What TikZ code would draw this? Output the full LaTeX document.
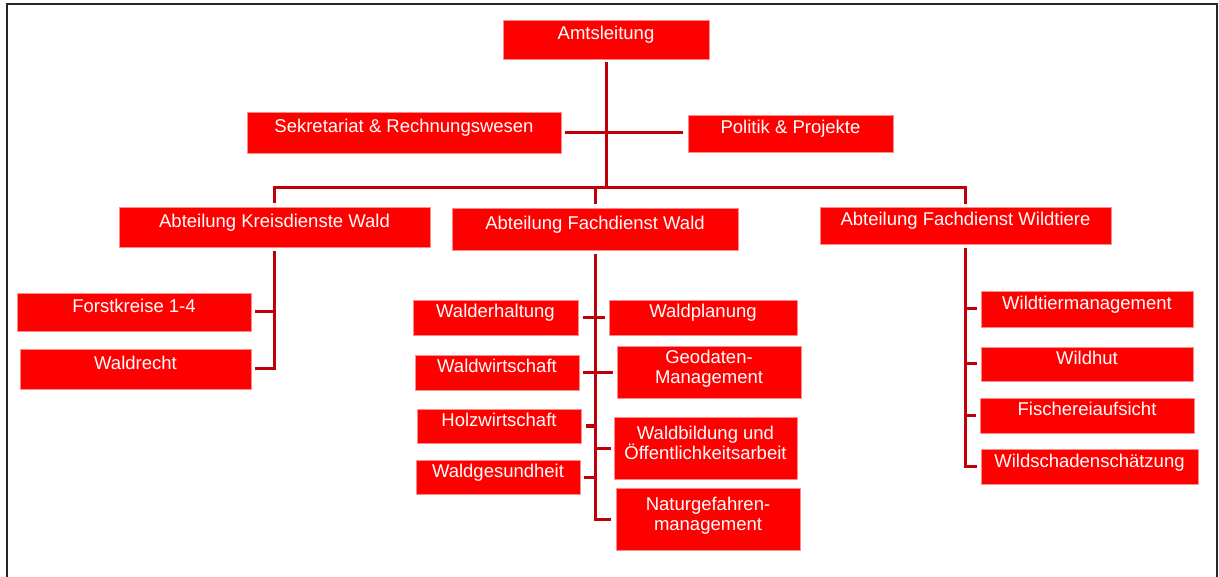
\documentclass[tikz,border=0pt]{standalone}
\usepackage{fontspec}
\setmainfont{Liberation Sans}
\definecolor{boxred}{RGB}{255,0,0}
\definecolor{boxedge}{RGB}{255,140,140}
\definecolor{linered}{RGB}{192,0,8}
\begin{document}
\begin{tikzpicture}[x=1pt,y=-1pt,
  box/.style={draw=boxedge, line width=0.7pt, fill=boxred, text=white,
    font=\fontsize{18.5}{20}\selectfont, inner sep=0pt, align=center,
    text height=13pt, text depth=12pt},
  twoline/.style={text height=33pt, text depth=10pt},
  conn/.style={draw=linered, line width=3pt},
  frame/.style={draw=black!85, line width=2pt}]
\useasboundingbox (0,0) rectangle (1219,577);
\draw[frame] (6.5,577) -- (6.5,4) -- (1217,4) -- (1217,577);

% boxes
\node[box, minimum width=206, minimum height=39] (amt)   at (606,39.5)  {Amtsleitung};
\node[box, minimum width=314, minimum height=41] (sek)   at (404,132.5) {Sekretariat \& Rechnungswesen};
\node[box, minimum width=205, minimum height=37] (pol)   at (790.5,133.5) {Politik \& Projekte};
\node[box, minimum width=311, minimum height=40] (kreis) at (274.5,227)  {Abteilung Kreisdienste Wald};
\node[box, minimum width=286, minimum height=42] (fach)  at (595,229)    {Abteilung Fachdienst Wald};
\node[box, minimum width=291, minimum height=37] (wild)  at (965.5,225.5) {Abteilung Fachdienst Wildtiere};

\node[box, minimum width=234, minimum height=38] (forst) at (134,312)    {Forstkreise 1-4};
\node[box, minimum width=231, minimum height=40] (recht) at (135.5,369)  {Waldrecht};

\node[box, minimum width=165, minimum height=35] (erh)   at (495.5,317.5) {Walderhaltung};
\node[box, minimum width=188, minimum height=35] (plan)  at (703,317.5)   {Waldplanung};
\node[box, minimum width=164, minimum height=35] (wirt)  at (497,372.5)   {Waldwirtschaft};
\node[box, twoline, minimum width=184, minimum height=52] (geo) at (709,372) {Geodaten-\\Management};
\node[box, minimum width=164, minimum height=34] (holz)  at (499,426)     {Holzwirtschaft};
\node[box, twoline, minimum width=183, minimum height=62] (bild) at (705.5,448) {Waldbildung und\\Öffentlichkeitsarbeit};
\node[box, minimum width=164, minimum height=34] (ges)   at (498,477)     {Waldgesundheit};
\node[box, twoline, minimum width=184, minimum height=62] (natur) at (708,519) {Naturgefahren-\\management};

\node[box, minimum width=212, minimum height=36] (wtm)   at (1087,309)    {Wildtiermanagement};
\node[box, minimum width=212, minimum height=34] (hut)   at (1087,364)    {Wildhut};
\node[box, minimum width=214, minimum height=35] (fisch) at (1087,415.5)  {Fischereiaufsicht};
\node[box, minimum width=217, minimum height=35] (schad) at (1089.5,466.5) {Wildschadenschätzung};

\coordinate (bus) at (0,188);

% top level
\draw[conn] ([yshift=-3pt]amt.south) -- (amt.south |- bus);
\draw[conn] ([xshift=4pt]sek.east) -- ([xshift=-5pt]pol.west |- sek.east);
\draw[conn] ([yshift=4pt]kreis.north) |- (bus -| wild.north) -- ([yshift=3pt]wild.north);
\draw[conn] (fach.north |- bus) -- ([yshift=4pt]fach.north);

% Kreisdienste
\draw[conn] ([yshift=-4pt]kreis.south) |- ([xshift=4pt]recht.east);
\draw[conn] ([xshift=4pt]forst.east) -- (forst.east -| kreis.south);

% Fachdienst Wald
\draw[conn] ([yshift=-4pt]fach.south) |- ([xshift=-5pt]natur.west);
\draw[conn] ([xshift=5pt]erh.east) -- ([xshift=-4pt]plan.west);
\draw[conn] ([xshift=4pt]wirt.east) -- ([xshift=-4pt]geo.west |- wirt.east);
\draw[conn] ([xshift=5pt]holz.east) -- (holz.east -| fach.south);
\draw[conn] (bild.west -| fach.south) -- ([xshift=-3pt]bild.west);
\draw[conn] ([xshift=4pt]ges.east) -- (ges.east -| fach.south);

% Wildtiere
\draw[conn] ([yshift=-4pt]wild.south) |- ([xshift=-4pt]schad.west);
\draw[conn] (wtm.west -| wild.south) -- ([xshift=-4pt]wtm.west);
\draw[conn] (hut.west -| wild.south) -- ([xshift=-4pt]hut.west);
\draw[conn] (fisch.west -| wild.south) -- ([xshift=-4pt]fisch.west);
\end{tikzpicture}
\end{document}
